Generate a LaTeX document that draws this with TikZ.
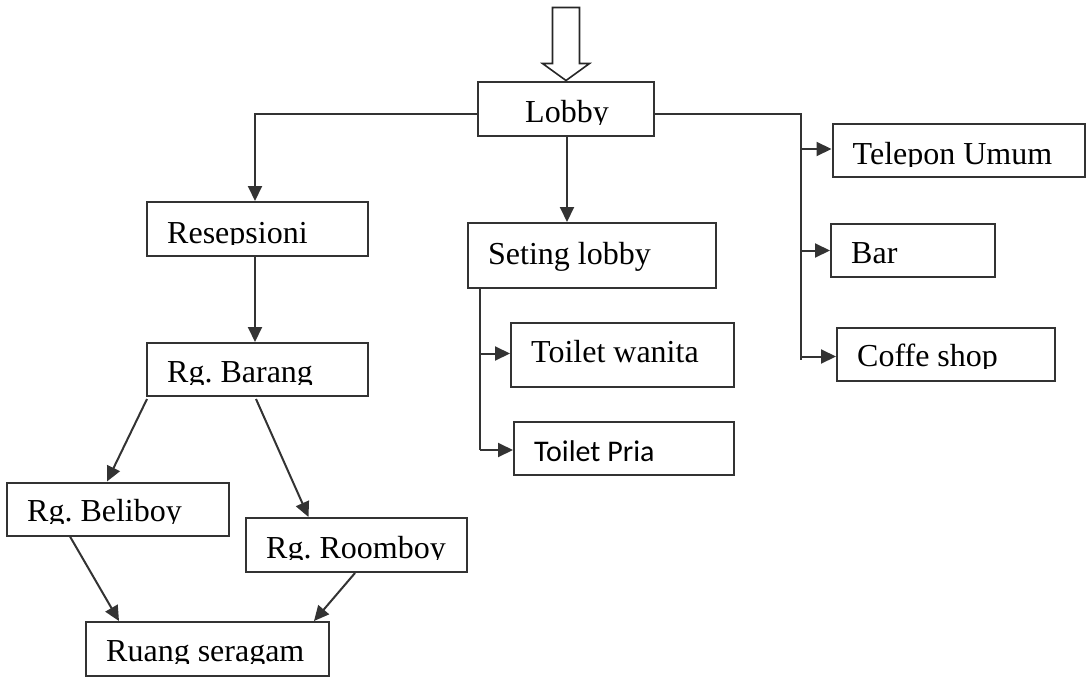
\documentclass[tikz,border=0pt]{standalone}
\usepackage{fontspec}
\setmainfont{Liberation Serif}
\newfontfamily\priafont{Carlito}
\usetikzlibrary{arrows.meta}

% label set inside box #1: text #2, baseline #3 below the box centre,
% everything lower than #4 below the centre is cut off
\newcommand{\boxlabel}[4]{%
  \begin{scope}
    \clip (#1.north west) rectangle ([yshift=-#4]#1.east);
    \node[lbl] (#1-t) at ([xshift=21pt,yshift=-#3]#1.west) {#2};
  \end{scope}}

\begin{document}
\begin{tikzpicture}[x=1pt,y=-1pt,
  every node/.style={font=\fontsize{32}{37}\selectfont\frenchspacing},
  box/.style={draw=black!80, line width=2pt, inner sep=0pt},
  lbl/.style={anchor=base west, inner sep=0pt},
  link/.style={draw=black!80, line width=2pt},
  arr/.style={link, -{Triangle[length=15pt,width=14pt]}},
  entry/.style={draw=black!85, line width=1.6pt, fill=white, line join=miter},
]
\useasboundingbox (0,0) rectangle (1086,677);

% boxes
\node[box, minimum width=176pt, minimum height=54pt] (lobby)   at (566,108.5) {};
\node[box, minimum width=221pt, minimum height=54pt] (resep)   at (257.5,229) {};
\node[box, minimum width=221pt, minimum height=53pt] (barang)  at (257.5,369.5) {};
\node[box, minimum width=222pt, minimum height=53pt] (beliboy) at (118,509) {};
\node[box, minimum width=221pt, minimum height=54pt] (roomboy) at (356.5,545) {};
\node[box, minimum width=243pt, minimum height=54pt] (ruang)   at (207.5,649) {};
\node[box, minimum width=248pt, minimum height=65pt] (seting)  at (592,255.5) {};
\node[box, minimum width=223pt, minimum height=64pt] (wanita)  at (622.5,355) {};
\node[box, minimum width=220pt, minimum height=53pt] (pria)    at (624,448.5) {};
\node[box, minimum width=252pt, minimum height=53pt] (tel)     at (958.5,150.5) {};
\node[box, minimum width=164pt, minimum height=53pt] (bar)     at (913,250.5) {};
\node[box, minimum width=218pt, minimum height=53pt] (coffe)   at (946,354.5) {};

% labels
\begin{scope}
  \clip (lobby.north west) rectangle ([yshift=-15.5pt]lobby.east);
  \node[anchor=base, inner sep=0pt] (lobby-t) at ([xshift=1pt,yshift=-14pt]lobby.center) {Lobby};
\end{scope}
\boxlabel{resep}{Resepsioni}{14pt}{15.5pt}
\boxlabel{barang}{Rg. Barang}{13pt}{14.5pt}
\boxlabel{beliboy}{Rg. Beliboy}{12.7pt}{14.2pt}
\boxlabel{roomboy}{Rg. Roomboy}{13pt}{14.5pt}
\boxlabel{ruang}{Ruang seragam}{12.7pt}{14.2pt}
\boxlabel{seting}{Seting lobby}{8.5pt}{30pt}
\boxlabel{wanita}{Toilet wanita}{7.7pt}{30pt}
\boxlabel{pria}{\priafont\fontsize{30}{34}\selectfont Toilet Pria}{13pt}{25pt}
\boxlabel{tel}{Telepon Umum}{14pt}{15.5pt}
\boxlabel{bar}{Bar}{12.5pt}{25pt}
\boxlabel{coffe}{Coffe shop}{12pt}{13.5pt}

% entry arrow into the lobby
\draw[entry] (lobby.north) -- ++(-23.5,-17) -- ++(10,0) -- ++(0,-56)
  -- ++(27,0) -- ++(0,56) -- ++(10,0) -- cycle;

% lobby to the left branch
\draw[arr] ([yshift=-5.5pt]lobby.west) -| ([xshift=-2.5pt]resep.north);
\draw[arr] ([xshift=-2.5pt]resep.south) -- ([xshift=-2.5pt]barang.north);

% storage room to the boy rooms and the uniform room
\draw[arr] ([xshift=1pt,yshift=-2pt]barang.south west) -- ([xshift=-11pt]beliboy.north);
\draw[arr] ([xshift=-1.5pt,yshift=-2pt]barang.south) -- ([xshift=-48pt]roomboy.north);
\draw[arr] ([xshift=64pt]beliboy.south west) -- ([xshift=34pt]ruang.north west);
\draw[arr] ([xshift=-1.5pt]roomboy.south) -- ([xshift=-16pt]ruang.north east);

% lobby down to the lobby seating
\draw[arr] ([xshift=1pt]lobby.south) -- ([xshift=1pt]lobby.south |- seting.north);

% seating trunk to the toilets
\coordinate (strunk) at (480,450);
\draw[link] (seting.south -| strunk) -- (strunk);
\draw[arr] ([yshift=1.5pt]strunk |- wanita.west) -- ([yshift=1.5pt]wanita.west);
\draw[arr] (strunk) -- (strunk -| pria.west);

% lobby to the right branch
\coordinate (rtrunk) at (801,360);
\draw[link] ([yshift=-5.5pt]lobby.east) -| (rtrunk);
\draw[arr] ([yshift=1.5pt]rtrunk |- tel.west) -- ([yshift=1.5pt]tel.west);
\draw[arr] (rtrunk |- bar.west) -- (bar.west);
\draw[arr] ([yshift=-2pt]rtrunk |- coffe.west) -- ([yshift=-2pt]coffe.west);
\end{tikzpicture}
\end{document}
